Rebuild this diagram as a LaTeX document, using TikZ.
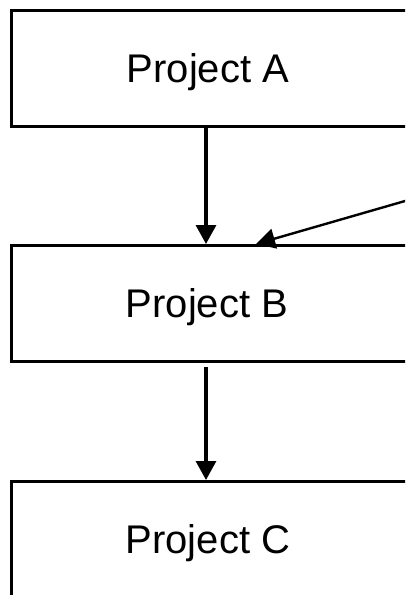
\documentclass[tikz,border=0pt]{standalone}
\usepackage{fontspec}
\setmainfont{Liberation Sans}
\usetikzlibrary{arrows.meta}
\begin{document}
\begin{tikzpicture}[x=1pt,y=-1pt,
  boxshape/.style={draw=black,line width=3.2pt,rectangle,minimum width=600pt,anchor=north west,inner sep=0pt},
  lab/.style={font=\fontsize{40}{44}\selectfont,anchor=base,inner sep=0pt},
  conn/.style={line width=3.2pt,-{Triangle[length=19pt,width=20pt]}},
  diag/.style={line width=2.4pt,-{Triangle[length=19pt,width=20pt]}}]
\clip (0,0) rectangle (405,595);
\fill[white] (0,0) rectangle (405,595);
\node[boxshape,minimum height=116pt] (boxA) at (9.5,9) {};
\node[boxshape,minimum height=116pt] (boxB) at (9.5,244) {};
\node[boxshape,minimum height=200pt] (boxC) at (9.5,480) {};
\node[lab] (labA) at (208,82) {Project A};
\node[lab] (labB) at (207,317) {Project B};
\node[lab] (labC) at (208,553) {Project C};
\coordinate (bstart) at (206,367);
\coordinate (dstart) at (412,199);
\draw[conn] (boxA.south -| 206,0) -- (boxB.north -| 206,0);
\draw[conn] (bstart) -- (boxC.north -| 206,0);
\draw[diag] (dstart) -- (boxB.north -| 256,0);
\end{tikzpicture}
\end{document}
